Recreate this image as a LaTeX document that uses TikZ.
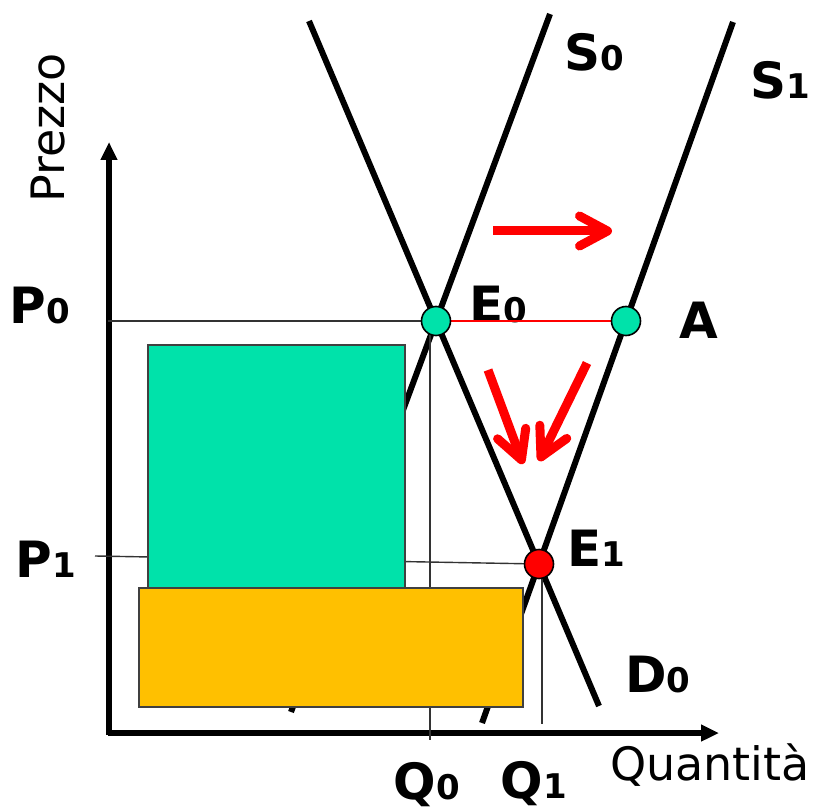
\documentclass[tikz,border=0pt]{standalone}
\usepackage{fontspec}
\setmainfont{DejaVu Sans}
\usetikzlibrary{arrows.meta}

\definecolor{mint}{RGB}{0,226,170}
\definecolor{amber}{RGB}{255,192,0}
\newcommand{\sublab}[2]{#1{\fontsize{17}{17}\selectfont #2}}

\begin{document}
\begin{tikzpicture}[x=0.5pt, y=-0.5pt,
    curve/.style={line width=3pt},
    axis/.style={line width=2.9pt, -{Triangle[length=9pt,width=8pt]}},
    guide/.style={line width=0.7pt, black!80},
    shiftarrow/.style={red, line width=4.5pt, -{Straight Barb[length=14pt,width=15pt,round]}},
    dot/.style={circle, draw, line width=0.8pt, minimum size=14.5pt, inner sep=0pt},
    lab/.style={font=\bfseries\fontsize{25}{25}\selectfont, inner sep=0pt, text height=18.5pt, text depth=0pt},
    word/.style={font=\fontsize{23}{23}\selectfont, inner sep=0pt}]

  \useasboundingbox (0,0) rectangle (813,812);

  % equilibrium points
  \coordinate (e0) at (436,321);
  \coordinate (a) at (626,321);
  \coordinate (e1) at (539,564);

  % supply and demand
  \coordinate (s0foot) at (291,712);
  \coordinate (s0top) at (550,14);
  \coordinate (s1foot) at (482,723);
  \coordinate (s1top) at (733,22);
  \coordinate (d0top) at (309,21);
  \coordinate (d0foot) at (599,706);
  \draw[curve] (s0foot) -- (s0top);
  \draw[curve] (s1foot) -- (s1top);
  \draw[curve] (d0top) -- (d0foot);

  % axes
  \coordinate (origin) at (109,733);
  \coordinate (ytip) at (109,142);
  \coordinate (xtip) at (719,733);
  \draw[axis] (109,734.5) -- (ytip);
  \draw[axis] (107.6,733) -- (xtip);

  % guides
  \coordinate (p0) at (108,321);
  \coordinate (p1) at (95,556);
  \coordinate (q0) at (430,740);
  \coordinate (q1) at (542,724);
  \draw[guide] (p0) -- (e0);
  \draw[guide] (p1) -- (e1);
  \draw[guide] (q0 |- e0) -- (q0);
  \draw[guide] (q1 |- e1) -- (q1);

  % areas
  \fill[mint, draw=black!75, line width=0.6pt] (148,345) rectangle (405,707);
  \fill[amber, draw=black!75, line width=0.6pt] (139,588) rectangle (523,707);

  % labels
  \node[lab] (S0) at (594,52) {\sublab{S}{0}};
  \node[lab] (S1) at (780,80) {\sublab{S}{1}};
  \node[lab] (P0) at (40,305) {\sublab{P}{0}};
  \node[lab] (E0lab) at (498,304) {\sublab{E}{0}};
  \node[lab] (Alab) at (699,320) {A};
  \node[lab] (P1) at (46,559) {\sublab{P}{1}};
  \node[lab] (E1lab) at (596,548) {\sublab{E}{1}};
  \node[lab] (D0) at (658,674) {\sublab{D}{0}};
  \node[lab] (Q0) at (427,781) {\sublab{Q}{0}};
  \node[lab] (Q1) at (534,780) {\sublab{Q}{1}};
  \node[word] (quantity) at (710,765) {Quantità};
  \node[word, rotate=90] (price) at (48,128) {Prezzo};

  \draw[red, line width=0.7pt] (e0) -- (a);

  \node[dot, fill=mint] (E0) at (e0) {};
  \node[dot, fill=mint] (A) at (a) {};
  \node[dot, fill=red] (E1) at (e1) {};

  % shifts
  \coordinate (r0) at (493,231);
  \coordinate (r1) at (612,231);
  \coordinate (u0) at (488,370);
  \coordinate (u1) at (523,464);
  \coordinate (v0) at (587,363);
  \coordinate (v1) at (539,461);
  \draw[shiftarrow] (r0) -- (r1);
  \draw[shiftarrow] (u0) -- (u1);
  \draw[shiftarrow] (v0) -- (v1);
\end{tikzpicture}
\end{document}
